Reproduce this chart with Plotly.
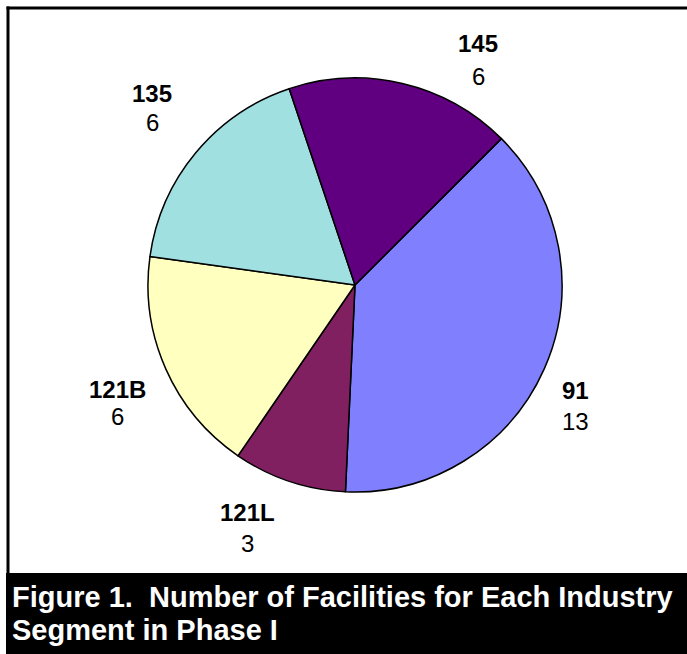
import plotly.graph_objects as go

# Industry segments and number of facilities in each (Phase I)
segments = ["91", "121L", "121B", "135", "145"]
facilities = [13, 3, 6, 6, 6]
slice_colors = ["#8080FF", "#802060", "#FFFFC0", "#A0E0E0", "#600080"]

caption_lines = [
    "Figure 1.  Number of Facilities for Each Industry",
    "Segment in Phase I",
]

W, H = 687, 654


def px(x):
    return x / W


def py(y):
    return 1 - y / H


# label block centres (pixel positions of name line / value line)
label_pos = {
    "91": (575, 390, 421),
    "121L": (247, 512, 543),
    "121B": (117, 389, 417),
    "135": (152, 93, 122),
    "145": (478, 44, 76),
}

# pie circle: centre (355, 285), radius 207 px
cx, cy, r = 355, 285, 207

fig = go.Figure(
    go.Pie(
        labels=segments,
        values=facilities,
        sort=False,
        direction="clockwise",
        rotation=45,
        marker=dict(colors=slice_colors, line=dict(color="black", width=1.5)),
        textinfo="none",
        hoverinfo="label+value",
        domain=dict(x=[px(cx - r), px(cx + r)], y=[py(cy + r), py(cy - r)]),
        showlegend=False,
    )
)

annotations = []
label_font = "Liberation Sans, Arial, sans-serif"
for name, val in zip(segments, facilities):
    x, y_name, y_val = label_pos[name]
    annotations.append(dict(
        x=px(x), y=py(y_name), xref="paper", yref="paper",
        text=f"<b>{name}</b>", showarrow=False,
        xanchor="center", yanchor="middle",
        font=dict(family=label_font, size=24, color="black"),
    ))
    annotations.append(dict(
        x=px(x), y=py(y_val), xref="paper", yref="paper",
        text=str(val), showarrow=False,
        xanchor="center", yanchor="middle",
        font=dict(family=label_font, size=24, color="black"),
    ))

for i, line in enumerate(caption_lines):
    annotations.append(dict(
        x=px(10), y=py(597 + 33 * i), xref="paper", yref="paper",
        text=f"<b>{line}</b>", showarrow=False,
        xanchor="left", yanchor="middle",
        font=dict(family=label_font, size=29, color="white"),
    ))

shapes = [
    # chart frame: left and top edges
    dict(type="line", xref="paper", yref="paper",
         x0=px(8), x1=px(8), y0=py(574), y1=py(6.5),
         line=dict(color="black", width=3), layer="below"),
    dict(type="line", xref="paper", yref="paper",
         x0=px(6.5), x1=1, y0=py(8), y1=py(8),
         line=dict(color="black", width=3), layer="below"),
    # caption band
    dict(type="rect", xref="paper", yref="paper",
         x0=px(6), x1=1, y0=0, y1=py(573),
         line=dict(width=0), fillcolor="black", layer="below"),
]

fig.update_layout(
    width=W, height=H,
    margin=dict(l=0, r=0, t=0, b=0),
    paper_bgcolor="white",
    plot_bgcolor="white",
    annotations=annotations,
    shapes=shapes,
)

fig.write_html("out.html")
